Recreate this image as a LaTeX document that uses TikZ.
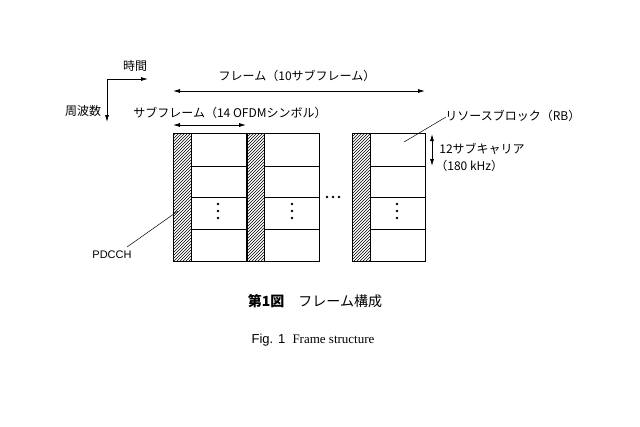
\documentclass[tikz,border=0pt]{standalone}
\usepackage{fontspec}
\setmainfont{Liberation Sans}
\newfontfamily\cjk{Noto Sans CJK JP}
\newfontfamily\serifr{Liberation Serif}
\usetikzlibrary{patterns,arrows.meta}
\begin{document}
\begin{tikzpicture}[x=1pt,y=-1pt,line width=0.8pt,
  lbl/.style={font=\cjk\fontsize{12}{14}\selectfont,inner sep=0pt},
  hatch/.style={draw,pattern=north east lines},
  cell/.style={draw},
  arr/.style={-{Latex[length=7pt,width=4pt]}},
  darr/.style={{Latex[length=7pt,width=4pt]}-{Latex[length=7pt,width=4pt]}}]
\useasboundingbox (0,0) rectangle (640,426);
% axes
\coordinate (c) at (107,79);
\coordinate (tend) at (148,79);
\coordinate (fend) at (107,122);
\draw[arr] (c) -- (tend);
\draw[arr] (c) -- (fend);
\node[lbl] (time) at (135,66) {時間};
\node[lbl] (freq) at (83,111) {周波数};
% frame arrow
\coordinate (fa) at (173,91); \coordinate (fb) at (425,91);
\draw[darr] (fa) -- (fb);
\node[lbl] (frame) at (297,76) {フレーム（10サブフレーム）};
\coordinate (sa) at (173,125); \coordinate (sb) at (246,125);
\draw[darr] (sa) -- (sb);
\node[lbl] (sub) at (230,113) {サブフレーム（14 OFDMシンボル）};
% blocks
\foreach \h/\w in {173/191,247/264,352/370}{
  \draw[hatch] (\h,133) rectangle (\w,261);
  \foreach \ya/\yb in {133/166,166/197,197/229,229/261}
    \draw[cell] (\w,\ya) rectangle (\w+55,\yb);
}
\foreach \x in {218,292,397}
  \foreach \y in {204,211,218} \fill (\x,\y) circle (1.3);
\foreach \x in {327,333,339} \fill (\x,197) circle (1.3);
% PDCCH
\node[inner sep=0pt,font=\fontsize{11}{13}\selectfont] (pd) at (112,255) {PDCCH};
\coordinate (pdt) at (178,211);
\draw[line width=0.5pt] (127,247) -- (pdt);
% RB
\node[lbl,anchor=west] (rb) at (445,116) {リソースブロック（RB）};
\coordinate (rbt) at (404,142);
\draw[line width=0.5pt] (rbt) -- (446,117);
\coordinate (ra) at (432,134); \coordinate (rbb) at (432,166);
\draw[darr] (ra) -- (rbb);
\node[lbl,anchor=west] (sc) at (439,149) {12サブキャリア};
\node[lbl,anchor=west] (khz) at (435,166) {（180 kHz）};
% captions
\node[inner sep=0pt,font=\cjk\fontsize{14}{16}\selectfont] (cap1) at (315,301) {\textbf{第1図}\quad フレーム構成};
\node[inner sep=0pt] (cap2) at (313,340) {\fontsize{13}{15}\selectfont Fig. 1\ \ \serifr Frame structure};
\end{tikzpicture}
\end{document}
